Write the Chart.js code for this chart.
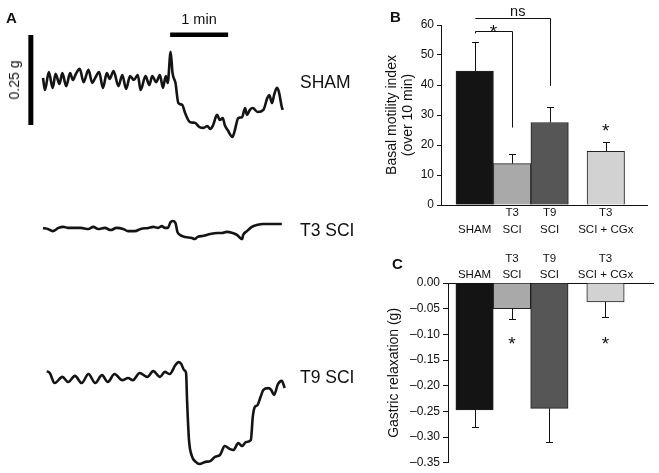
<!DOCTYPE html>
<html lang="en">
<head>
<meta charset="UTF-8">
<title>Gastric motility after SCI</title>
<script src="https://cdn.jsdelivr.net/npm/chart.js@4.4.1/dist/chart.umd.min.js"></script>
<style>
    html, body { margin: 0; padding: 0; background: #fff; }
    body {
        width: 659px; height: 473px; position: relative; overflow: hidden;
        font-family: "Liberation Sans", Arial, sans-serif; color: #111;
    }
    .panel { position: absolute; }
    .lbl { position: absolute; white-space: nowrap; line-height: 1; }
    .letter { font-weight: bold; font-size: 15px; }
    .trace-name { font-size: 17.5px; }
</style>
</head>
<body>
<div class="panel" style="left:0;top:0"><canvas id="traces" width="380" height="473"></canvas></div>
<div class="panel" style="left:380px;top:0"><canvas id="motility" width="279" height="245"></canvas></div>
<div class="panel" style="left:380px;top:232px"><canvas id="relax" width="279" height="241"></canvas></div>

<div class="lbl letter" style="left:6px;top:10px">A</div>
<div class="lbl letter" style="left:390px;top:9px">B</div>
<div class="lbl letter" style="left:392px;top:256px">C</div>
<div class="lbl" style="left:199px;top:12px;font-size:14.5px;transform:translateX(-50%)">1 min</div>
<div class="lbl" style="left:14px;top:80px;font-size:14px;transform:translate(-50%,-50%) rotate(-90deg)">0.25 g</div>
<div class="lbl trace-name" style="left:300px;top:74px">SHAM</div>
<div class="lbl trace-name" style="left:300px;top:222px">T3 SCI</div>
<div class="lbl trace-name" style="left:300px;top:369px">T9 SCI</div>

<script>
    // ---- panel A: raw traces (time in s from start of trace, force in g relative to baseline)
    const shamTime = [0,2,6,10,13,17,20,24,28,31,34,38,42,47,51,54,58,62,66,69,73,78,82,86,90,94,98,101,106,110,113,117,121,124,127,129,132,134,137,140,144,147,152,157,162,166,170,173,176,180,183,186,188,191,196,198,202,206,209,211,214,217,222,228,232,234,237,239,242,244,247,248];
    const shamForce = [0.006,-0.028,0.022,-0.022,0.017,-0.011,0.019,-0.017,0.019,0,0.017,0.031,-0.006,0.028,-0.008,0.006,0.022,-0.022,0.019,0.003,0.025,-0.017,0.014,-0.025,0.011,0,0.014,-0.028,0.011,-0.014,0.011,-0.006,0.014,-0.022,0.011,-0.008,0.078,0.019,-0.008,-0.064,-0.069,-0.092,-0.117,-0.119,-0.131,-0.133,-0.128,-0.136,-0.125,-0.097,-0.111,-0.106,-0.125,-0.139,-0.158,-0.144,-0.106,-0.103,-0.078,-0.097,-0.083,-0.078,-0.089,-0.083,-0.050,-0.042,-0.064,-0.042,-0.022,-0.033,-0.075,-0.083];

    const t3Time = [0,5,10,16,21,26,31,39,47,52,57,64,70,76,83,88,95,101,109,114,119,123,126,129,132,134,137,139,142,147,154,157,160,166,173,180,185,190,196,201,204,206,207,211,216,221,228,235,242,247];
    const t3Force = [0.003,0,-0.006,0.003,0.006,0.003,0.003,0.003,0,0.006,0,0.003,-0.003,0.003,0,-0.006,-0.006,0,0.003,0.006,0.003,0.008,0.003,0.003,0.019,0.022,0.017,-0.008,-0.017,-0.022,-0.025,-0.028,-0.022,-0.019,-0.014,-0.011,-0.011,-0.008,-0.011,-0.017,-0.025,-0.028,-0.017,-0.006,0.006,0.011,0.014,0.014,0.014,0.014];

    const t9Time = [4,7,12,20,26,33,40,47,54,61,67,74,82,88,93,100,108,114,121,126,131,137,140,143,146,148,149,151,154,158,162,168,173,178,183,188,193,197,202,206,210,215,217,219,222,225,228,233,236,239,243,247,250];
    const t9Force = [0.019,0.014,-0.014,0.003,-0.011,0.006,-0.014,0.011,-0.014,0.008,-0.011,0.011,-0.006,0,-0.006,0.014,0.003,0.019,0.003,0.017,0.011,0.036,0.044,0.039,0.022,0.014,-0.061,-0.172,-0.217,-0.233,-0.239,-0.233,-0.231,-0.219,-0.214,-0.189,-0.197,-0.2,-0.181,-0.189,-0.178,-0.172,-0.108,-0.081,-0.075,-0.053,-0.033,-0.028,-0.033,-0.047,-0.017,-0.008,-0.028];

    // scale bars: 0.25 g and 1 min
    const scaleBarG = 0.25;
    const scaleBarSec = 60;

    // ---- panels B and C
    const groupLabels = [['', 'SHAM'], ['T3', 'SCI'], ['T9', 'SCI'], ['T3', 'SCI + CGx']];
    const groupX = [0, 1, 2, 3.5];
    const groupColors = ['#141414', '#a9a9a9', '#565656', '#d2d2d2'];

    const motility = [44.6, 13.8, 27.5, 17.9];
    const motilitySem = [9.8, 3.3, 5.1, 3.0];
    const motilityTicks = [0, 10, 20, 30, 40, 50, 60];

    const relaxation = [-0.247, -0.050, -0.244, -0.037];
    const relaxationSem = [0.033, 0.021, 0.066, 0.030];

    Chart.defaults.font.family = '"Liberation Sans", Arial, sans-serif';
    Chart.defaults.color = '#111';
    Chart.defaults.animation = false;

    const zip = (xs, ys) => xs.map((x, i) => ({ x: x, y: ys[i] }));

    // error bars, brackets and asterisks, placed through the chart scales
    const marksPlugin = {
        id: 'marks',
        afterDraw(chart, args, opts) {
            const { ctx } = chart;
            const x = chart.scales.x, y = chart.scales.y;
            ctx.save();
            ctx.strokeStyle = '#111';
            ctx.fillStyle = '#111';
            ctx.lineWidth = 1;
            (opts.values || []).forEach((v, i) => {
                const px = Math.round(x.getPixelForValue(opts.xs[i])) + 0.5;
                const end = v + opts.dir * opts.errors[i];
                const y0 = y.getPixelForValue(v);
                const y1 = Math.round(y.getPixelForValue(end)) + 0.5;
                ctx.beginPath();
                ctx.moveTo(px, y0);
                ctx.lineTo(px, y1);
                ctx.moveTo(px - 3.5, y1);
                ctx.lineTo(px + 3.5, y1);
                ctx.stroke();
            });
            (opts.brackets || []).forEach(b => {
                const xa = Math.round(x.getPixelForValue(b.from)) + 0.5;
                const xb = Math.round(x.getPixelForValue(b.to)) + 0.5;
                const yl = Math.round(y.getPixelForValue(b.level)) + 0.5;
                ctx.beginPath();
                ctx.moveTo(xa, y.getPixelForValue(b.start));
                ctx.lineTo(xa, yl);
                ctx.lineTo(xb, yl);
                ctx.lineTo(xb, y.getPixelForValue(b.drop));
                ctx.stroke();
            });
            (opts.texts || []).forEach(t => {
                ctx.font = t.size + 'px "Liberation Sans", Arial, sans-serif';
                ctx.textAlign = 'center';
                ctx.textBaseline = 'alphabetic';
                const lift = t.text === '*' ? 0.62 : 0.3;
                ctx.fillText(t.text, x.getPixelForValue(t.x), y.getPixelForValue(t.y) + t.size * lift);
            });
            ctx.restore();
        }
    };

    // ---- panel A
    new Chart(document.getElementById('traces'), {
        type: 'line',
        data: {
            datasets: [
                { data: zip(shamTime, shamForce), yAxisID: 'ySham' },
                { data: zip(t3Time, t3Force), yAxisID: 'yT3' },
                { data: zip(t9Time, t9Force), yAxisID: 'yT9' },
                {
                    data: [{ x: -12.6, y: -scaleBarG / 2 }, { x: -12.6, y: scaleBarG / 2 }],
                    yAxisID: 'ySham', borderWidth: 5, borderColor: '#000', cubicInterpolationMode: 'default', tension: 0
                },
                {
                    data: [{ x: 131.5, y: 0.126 }, { x: 131.5 + scaleBarSec, y: 0.126 }],
                    yAxisID: 'ySham', borderWidth: 4.5, borderColor: '#000', cubicInterpolationMode: 'default', tension: 0
                }
            ]
        },
        options: {
            responsive: false,
            layout: { padding: 0 },
            plugins: { legend: { display: false }, tooltip: { enabled: false } },
            elements: {
                point: { radius: 0 },
                line: { borderColor: '#141414', borderWidth: 2.6, cubicInterpolationMode: 'monotone', borderCapStyle: 'butt', borderJoinStyle: 'round' }
            },
            scales: {
                x: { type: 'linear', display: false, min: -44.5, max: 348.6 },
                ySham: { type: 'linear', display: false, min: -1.0917, max: 0.2222 },
                yT3: { type: 'linear', display: false, min: -0.6778, max: 0.6361 },
                yT9: { type: 'linear', display: false, min: -0.2639, max: 1.05 }
            }
        }
    });

    const groupTickCallback = value => {
        const i = groupX.indexOf(value);
        return i >= 0 ? groupLabels[i] : '';
    };

    // ---- panel B
    new Chart(document.getElementById('motility'), {
        type: 'bar',
        data: {
            datasets: [{
                data: zip(groupX, motility),
                backgroundColor: groupColors,
                borderColor: '#222',
                borderWidth: 1,
                barPercentage: 1,
                categoryPercentage: 1
            }]
        },
        options: {
            responsive: false,
            layout: { padding: { left: 0, right: 12, top: 25, bottom: 0 } },
            plugins: {
                legend: { display: false }, tooltip: { enabled: false },
                marks: {
                    values: motility, errors: motilitySem, xs: groupX, dir: 1,
                    brackets: [
                        { from: 0, to: 2, start: 62.3, level: 62.3, drop: 39.7 },
                        { from: 0, to: 1, start: 57.2, level: 58.1, drop: 25.8 }
                    ],
                    texts: [
                        { text: 'ns', x: 1.15, y: 64.3, size: 14.5 },
                        { text: '*', x: 0.5, y: 59.5, size: 19 },
                        { text: '*', x: 3.5, y: 26.7, size: 19 }
                    ]
                }
            },
            scales: {
                x: {
                    type: 'linear', min: -0.9, max: 4.6, offset: false,
                    afterBuildTicks: s => { s.ticks = groupX.map(v => ({ value: v })); },
                    afterFit: s => { s.height = 40; },
                    grid: { display: false, drawTicks: false },
                    border: { display: true, color: '#111', width: 1 },
                    ticks: { autoSkip: false, maxRotation: 0, padding: 0, font: { size: 11.5, lineHeight: 1.42 }, callback: groupTickCallback }
                },
                y: {
                    min: 0, max: 60,
                    afterBuildTicks: s => { s.ticks = motilityTicks.map(v => ({ value: v })); },
                    afterFit: s => { s.width = 61; },
                    grid: { drawOnChartArea: false, tickLength: 4, color: '#111' },
                    border: { display: true, color: '#111', width: 1 },
                    ticks: { padding: 3, font: { size: 12 } },
                    title: { display: true, text: ['Basal motility index', '(over 10 min)'], padding: { top: 5 }, font: { size: 14, lineHeight: 1.08 } }
                }
            }
        },
        plugins: [marksPlugin]
    });

    // ---- panel C
    new Chart(document.getElementById('relax'), {
        type: 'bar',
        data: {
            datasets: [{
                data: zip(groupX, relaxation),
                backgroundColor: groupColors,
                borderColor: '#222',
                borderWidth: 1,
                barPercentage: 1,
                categoryPercentage: 1
            }]
        },
        options: {
            responsive: false,
            layout: { padding: { left: 0, right: 6, top: 0, bottom: 10 } },
            plugins: {
                legend: { display: false }, tooltip: { enabled: false },
                marks: {
                    values: relaxation, errors: relaxationSem, xs: groupX, dir: -1,
                    texts: [
                        { text: '*', x: 1, y: -0.107, size: 19 },
                        { text: '*', x: 3.5, y: -0.107, size: 19 }
                    ]
                }
            },
            scales: {
                x: {
                    type: 'linear', position: 'top', min: -0.71, max: 4.77, offset: false,
                    afterBuildTicks: s => { s.ticks = groupX.map(v => ({ value: v })); },
                    afterFit: s => { s.height = 51; },
                    grid: { display: false, drawTicks: false },
                    border: { display: true, color: '#111', width: 1 },
                    ticks: { autoSkip: false, maxRotation: 0, padding: 0, font: { size: 11.5, lineHeight: 1.42 }, callback: groupTickCallback }
                },
                y: {
                    min: -0.35, max: 0,
                    afterFit: s => { s.width = 68; },
                    grid: { drawOnChartArea: false, tickLength: 5, color: '#111' },
                    border: { display: true, color: '#111', width: 1 },
                    ticks: {
                        stepSize: 0.05, padding: 3, font: { size: 12 },
                        callback: v => Math.abs(v) < 1e-9 ? '0.00' : '\u2013' + Math.abs(v).toFixed(2)
                    },
                    title: { display: true, text: 'Gastric relaxation (g)', padding: { top: 6 }, font: { size: 14 } }
                }
            }
        },
        plugins: [marksPlugin]
    });
</script>
</body>
</html>
